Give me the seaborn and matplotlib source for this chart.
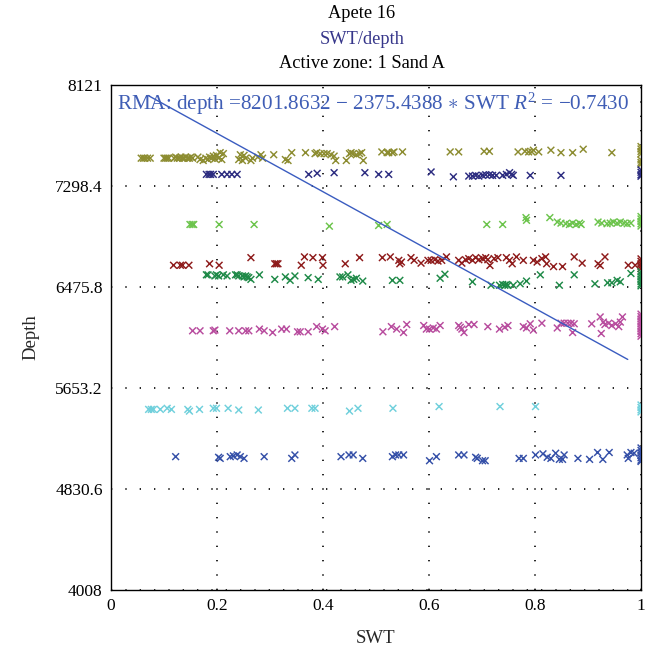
import matplotlib
matplotlib.use("Agg")
import matplotlib.pyplot as plt
import seaborn as sns
import pandas as pd
import numpy as np

# ---------------- data ----------------
olive_swt = [0.057, 0.061, 0.064, 0.069, 0.074, 0.100, 0.103, 0.106, 0.109,
             0.119, 0.122, 0.125, 0.129, 0.132, 0.135, 0.138, 0.141, 0.145, 0.148, 0.151, 0.154,
             0.164, 0.168, 0.174, 0.179, 0.183, 0.186, 0.190, 0.193, 0.196, 0.199, 0.203, 0.206, 0.209, 0.212,
             0.241, 0.244, 0.248, 0.251, 0.254, 0.264, 0.267, 0.277, 0.283, 0.286, 0.307,
             0.329, 0.334, 0.341, 0.367, 0.385, 0.388, 0.395, 0.402, 0.408, 0.415, 0.421, 0.424,
             0.444, 0.450, 0.453, 0.457, 0.463, 0.469, 0.473, 0.476,
             0.511, 0.521, 0.524, 0.531, 0.534, 0.550, 0.640, 0.656, 0.704, 0.714,
             0.768, 0.781, 0.788, 0.794, 0.797, 0.807, 0.830, 0.849, 0.871, 0.891, 0.945,
             1.0, 1.0, 1.0, 1.0, 1.0, 1.0, 1.0]
olive_depth = [7525, 7525, 7525, 7525, 7525, 7525, 7525, 7525, 7525,
               7525, 7534, 7525, 7525, 7534, 7525, 7525, 7534, 7525, 7525, 7534, 7525,
               7534, 7514, 7506, 7525, 7514, 7534, 7525, 7542, 7520, 7548, 7525, 7570, 7514, 7562,
               7514, 7553, 7506, 7548, 7525, 7506, 7525, 7534, 7553, 7525, 7553,
               7514, 7506, 7570, 7570, 7562, 7570, 7562, 7562, 7562, 7553, 7542, 7506,
               7506, 7562, 7570, 7562, 7553, 7562, 7570, 7506,
               7576, 7570, 7570, 7570, 7576, 7576, 7576, 7576, 7581, 7581,
               7576, 7581, 7576, 7576, 7590, 7576, 7590, 7570, 7570, 7598, 7570,
               7620, 7600, 7580, 7560, 7510, 7490, 7475]

navy_swt = [0.180, 0.185, 0.188, 0.193, 0.209, 0.219, 0.228, 0.238, 0.373, 0.389, 0.421,
            0.479, 0.505, 0.524, 0.604, 0.646, 0.675, 0.682, 0.688, 0.694, 0.701, 0.707,
            0.714, 0.720, 0.727, 0.739, 0.746, 0.752, 0.756, 0.759, 0.791, 0.849,
            1.0, 1.0, 1.0, 1.0]
navy_depth = [7393, 7393, 7393, 7393, 7393, 7393, 7393, 7393, 7393, 7402, 7407,
              7407, 7393, 7393, 7413, 7373, 7379, 7379, 7385, 7379, 7385, 7390,
              7390, 7385, 7385, 7385, 7393, 7407, 7393, 7385, 7385, 7385,
              7430, 7410, 7390, 7378]

lgreen_swt = [0.149, 0.153, 0.156, 0.204, 0.270, 0.412, 0.505, 0.521, 0.709, 0.739,
              0.783, 0.784, 0.828, 0.842, 0.849, 0.858, 0.865, 0.871, 0.878, 0.884, 0.887,
              0.919, 0.926, 0.936, 0.942, 0.948, 0.955, 0.961, 0.968, 0.974, 0.981,
              1.0, 1.0, 1.0, 1.0, 1.0]
lgreen_depth = [6985, 6985, 6985, 6985, 6985, 6971, 6977, 6985, 6985, 6985,
                7041, 7019, 7041, 7005, 6996, 6991, 6985, 6996, 6985, 6996, 6985,
                7005, 6996, 6991, 6996, 7005, 6996, 7005, 6996, 6991, 6996,
                7050, 7030, 7010, 6990, 6972]

red_swt = [0.118, 0.131, 0.135, 0.147, 0.186, 0.204, 0.264, 0.309, 0.312, 0.315, 0.359, 0.365,
           0.381, 0.399, 0.400, 0.442, 0.469, 0.512, 0.527, 0.543, 0.545, 0.548, 0.566, 0.572,
           0.585, 0.598, 0.604, 0.611, 0.617, 0.624, 0.633, 0.656, 0.662, 0.669, 0.675, 0.682,
           0.688, 0.694, 0.701, 0.707, 0.711, 0.715, 0.723, 0.730, 0.746, 0.752, 0.757, 0.765,
           0.778, 0.797, 0.804, 0.813, 0.820, 0.822, 0.835, 0.852, 0.874, 0.889, 0.919, 0.923,
           0.932, 0.976, 0.989,
           1.0, 1.0, 1.0, 1.0, 1.0]
red_depth = [6653, 6653, 6653, 6653, 6665, 6653, 6715, 6665, 6665, 6665, 6653, 6721,
             6715, 6715, 6653, 6665, 6715, 6715, 6721, 6693, 6665, 6679, 6715, 6693,
             6670, 6693, 6693, 6698, 6687, 6693, 6721, 6693, 6670, 6698, 6707, 6693,
             6715, 6698, 6707, 6715, 6698, 6651, 6707, 6715, 6715, 6693, 6665, 6721,
             6693, 6693, 6679, 6707, 6721, 6665, 6642, 6642, 6721, 6670, 6665, 6651,
             6721, 6653, 6653,
             6705, 6685, 6665, 6645, 6625]

green_swt = [0.180, 0.183, 0.196, 0.199, 0.203, 0.212, 0.219, 0.235, 0.238, 0.241, 0.248,
             0.251, 0.254, 0.257, 0.260, 0.264, 0.280, 0.309, 0.329, 0.338, 0.347, 0.372,
             0.391, 0.432, 0.437, 0.447, 0.453, 0.458, 0.463, 0.475, 0.531, 0.545, 0.621,
             0.630, 0.682, 0.717, 0.733, 0.739, 0.743, 0.746, 0.749, 0.759, 0.772, 0.784,
             0.810, 0.846, 0.874, 0.913, 0.937, 0.945, 0.955, 0.961, 0.981,
             1.0, 1.0, 1.0, 1.0, 1.0, 1.0, 1.0]
green_depth = [6575, 6575, 6566, 6575, 6566, 6575, 6566, 6575, 6575, 6566, 6566,
               6558, 6566, 6558, 6552, 6538, 6575, 6538, 6558, 6530, 6566, 6552,
               6538, 6558, 6558, 6575, 6530, 6538, 6547, 6524, 6530, 6530, 6547,
               6580, 6518, 6490, 6490, 6496, 6490, 6496, 6490, 6490, 6502, 6524,
               6575, 6490, 6575, 6502, 6510, 6510, 6530, 6518, 6586,
               6600, 6580, 6560, 6540, 6520, 6500, 6485]

mag_swt = [0.154, 0.168, 0.193, 0.196, 0.224, 0.241, 0.254, 0.260, 0.280, 0.289, 0.305,
           0.322, 0.331, 0.352, 0.357, 0.372, 0.388, 0.399, 0.404, 0.422, 0.513, 0.529,
           0.539, 0.552, 0.558, 0.590, 0.595, 0.601, 0.608, 0.614, 0.621, 0.656, 0.659,
           0.662, 0.666, 0.675, 0.685, 0.711, 0.733, 0.743, 0.749, 0.778, 0.784, 0.791,
           0.797, 0.813, 0.842, 0.849, 0.855, 0.862, 0.868, 0.871, 0.874, 0.907, 0.923,
           0.925, 0.929, 0.932, 0.939, 0.945, 0.952, 0.958, 0.961, 0.965,
           1.0, 1.0, 1.0, 1.0, 1.0, 1.0, 1.0, 1.0, 1.0, 1.0]
mag_depth = [6119, 6119, 6119, 6125, 6119, 6119, 6119, 6119, 6133, 6119, 6105,
             6133, 6133, 6111, 6111, 6111, 6153, 6133, 6119, 6153, 6111, 6153,
             6133, 6105, 6170, 6162, 6133, 6133, 6142, 6133, 6162, 6162, 6148,
             6133, 6105, 6170, 6170, 6153, 6133, 6148, 6162, 6153, 6142, 6176,
             6125, 6181, 6142, 6181, 6181, 6181, 6181, 6105, 6176, 6176, 6232,
             6097, 6190, 6170, 6181, 6162, 6176, 6153, 6190, 6232,
             6255, 6235, 6215, 6195, 6175, 6155, 6135, 6115, 6095, 6075]

cyan_swt = [0.071, 0.076, 0.080, 0.093, 0.106, 0.114, 0.145, 0.148, 0.167, 0.193, 0.199,
            0.221, 0.241, 0.278, 0.333, 0.347, 0.379, 0.385, 0.450, 0.466, 0.532, 0.619,
            0.734, 0.801,
            1.0, 1.0, 1.0, 1.0]
cyan_depth = [5479, 5479, 5479, 5479, 5488, 5479, 5479, 5465, 5479, 5488, 5488,
              5488, 5474, 5474, 5488, 5488, 5488, 5488, 5465, 5488, 5488, 5502,
              5502, 5502,
              5515, 5495, 5475, 5458]

blue_swt = [0.122, 0.203, 0.206, 0.225, 0.231, 0.238, 0.244, 0.251, 0.289, 0.341, 0.347,
            0.434, 0.449, 0.457, 0.475, 0.531, 0.537, 0.543, 0.552, 0.601, 0.614, 0.656,
            0.666, 0.688, 0.691, 0.701, 0.706, 0.770, 0.778, 0.801, 0.815, 0.823, 0.830,
            0.839, 0.846, 0.852, 0.855, 0.881, 0.903, 0.918, 0.928, 0.940, 0.974, 0.976,
            0.981, 0.987,
            1.0, 1.0, 1.0, 1.0, 1.0, 1.0, 1.0]
blue_depth = [5094, 5089, 5080, 5094, 5100, 5108, 5094, 5080, 5094, 5080, 5108,
              5094, 5108, 5108, 5080, 5094, 5108, 5108, 5108, 5061, 5094, 5108,
              5108, 5089, 5080, 5061, 5061, 5080, 5080, 5108, 5117, 5089, 5080,
              5122, 5072, 5072, 5108, 5080, 5072, 5128, 5072, 5128, 5108, 5080,
              5128, 5122,
              5165, 5145, 5125, 5105, 5085, 5065, 5055]

zone_names = ["olive", "navy", "lgreen", "red", "green", "magenta", "cyan", "blue"]
zone_colors = ["#8c8c30", "#2c2c80", "#6cc44c", "#8e1b1b", "#1f8a48", "#b84c9e", "#70d0dc", "#3550a8"]

rma_intercept = 8201.8632
rma_slope = -2375.4388
rma_r2 = -0.7430
rma_swt_range = [0.07, 0.975]

y_ticks = [4008, 4830.6, 5653.2, 6475.8, 7298.4, 8121]
y_tick_labels = ["4008", "4830.6", "5653.2", "6475.8", "7298.4", "8121"]
x_ticks = [0, 0.2, 0.4, 0.6, 0.8, 1.0]
x_tick_labels = ["0", "0.2", "0.4", "0.6", "0.8", "1"]

# ---------------- build table ----------------
groups = [(olive_swt, olive_depth), (navy_swt, navy_depth), (lgreen_swt, lgreen_depth),
          (red_swt, red_depth), (green_swt, green_depth), (mag_swt, mag_depth),
          (cyan_swt, cyan_depth), (blue_swt, blue_depth)]
frames = []
for name, (sx, dy) in zip(zone_names, groups):
    frames.append(pd.DataFrame({"SWT": sx, "Depth": dy, "zone": name}))
df = pd.concat(frames, ignore_index=True)

# ---------------- plot ----------------
sns.set_style("white")
plt.rcParams["font.family"] = ["Liberation Serif", "DejaVu Serif"]
plt.rcParams["mathtext.fontset"] = "custom"
plt.rcParams["mathtext.it"] = "Liberation Serif:italic"
plt.rcParams["mathtext.rm"] = "Liberation Serif"

fig = plt.figure(figsize=(6.51, 6.51), dpi=100)
ax = fig.add_axes([111 / 651, 1 - 590 / 651, 530 / 651, 505 / 651])

sns.scatterplot(data=df, x="SWT", y="Depth", hue="zone", hue_order=zone_names,
                palette=zone_colors, marker="x", s=24, linewidth=1.05, legend=False,
                ax=ax, zorder=3, clip_on=True)

lx = np.array(rma_swt_range)
ax.plot(lx, rma_intercept + rma_slope * lx, color="#3a5cc0", lw=1.0, zorder=4)

ax.set_xlim(0, 1)
ax.set_ylim(4008, 8121)
ax.set_xticks(x_ticks)
ax.set_xticklabels(x_tick_labels)
ax.set_yticks(y_ticks)
ax.set_yticklabels(y_tick_labels)
ax.tick_params(length=0, labelsize=12.5, colors="black", pad=6)
ax.grid(True, color="black", linestyle=(0, (0.8, 7.8)), linewidth=1.2)
for sp in ax.spines.values():
    sp.set_color("black")
    sp.set_linewidth(1.0)
ax.set_xlabel("SWT", fontsize=13.5, labelpad=11)
ax.set_ylabel("Depth", fontsize=13.5, labelpad=11)

ax.text(0.011, 0.962,
        "RMA: depth =%.4f \u2212 %.4f $\\ast$ SWT $R^2$ = \u2212%.4f" % (rma_intercept, -rma_slope, -rma_r2),
        transform=ax.transAxes, color="#3f5db5", fontsize=15.2, va="center", ha="left", zorder=5)

tx = 362 / 651
fig.text(tx, 1 - 14 / 651, "Apete 16", ha="center", va="center", fontsize=13.2, color="black")
fig.text(tx, 1 - 40 / 651, "SWT/depth", ha="center", va="center", fontsize=13.2, color="#36368a")
fig.text(tx, 1 - 64 / 651, "Active zone: 1 Sand A", ha="center", va="center", fontsize=13.2, color="black")

fig.savefig("out.png", dpi=100)
